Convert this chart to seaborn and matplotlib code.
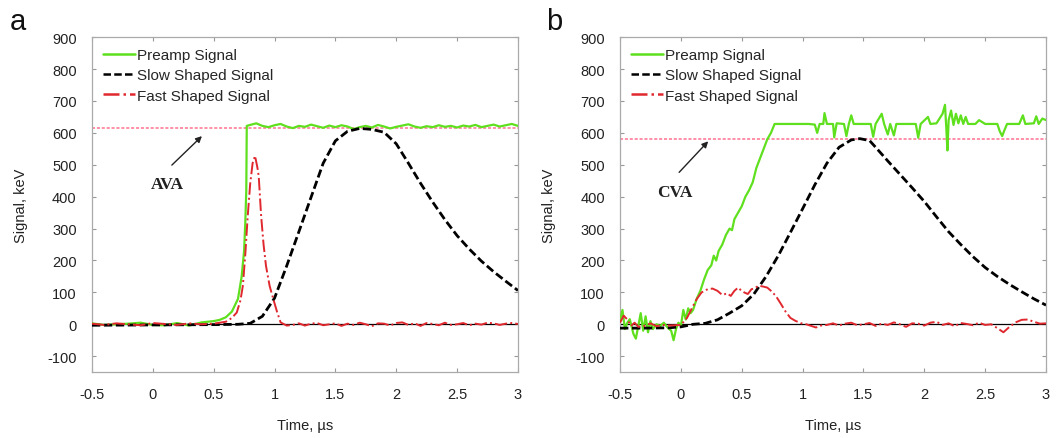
import numpy as np
import pandas as pd
import matplotlib
matplotlib.use("Agg")
import matplotlib.pyplot as plt
import seaborn as sns

sns.set_style("ticks")
plt.rcParams["font.family"] = ["Liberation Sans", "DejaVu Sans"]
plt.rcParams["axes.unicode_minus"] = False

# ---------------- panel a ----------------
a_pre_t = [-0.5, -0.4, -0.3, -0.2, -0.1, 0.0, 0.1, 0.2, 0.3, 0.4, 0.5, 0.55, 0.6, 0.65,
           0.7, 0.73, 0.75, 0.76, 0.768, 0.772] + list(np.round(np.arange(0.8, 3.001, 0.05), 2))
a_pre_v = [3, -2, 0, 2, 5, -2, -3, 4, -4, 6, 10, 14, 22, 40, 80, 150, 230, 320, 420, 622,
           625, 630, 622, 618, 624, 628, 620, 615, 622, 619, 626, 621, 616, 623, 618, 624,
           620, 612, 618, 622, 617, 625, 620, 614, 619, 623, 627, 620, 616, 621, 618, 624,
           619, 622, 617, 623, 620, 625, 618, 622, 626, 620, 624, 628, 622]

a_slow_t = [-0.5, 0.0, 0.5, 0.7, 0.8, 0.9, 1.0, 1.1, 1.2, 1.3, 1.4, 1.5, 1.6, 1.7, 1.8,
            1.9, 2.0, 2.1, 2.2, 2.3, 2.4, 2.5, 2.6, 2.7, 2.8, 2.9, 3.0]
a_slow_v = [-3, -2, -1, 0, 3, 25, 82, 183, 290, 398, 505, 575, 605, 614, 611, 602, 566,
            505, 442, 383, 328, 278, 236, 198, 165, 135, 106]

a_fast_t = [-0.5, -0.4, -0.3, -0.2, -0.1, 0.0, 0.1, 0.2, 0.3, 0.4, 0.5, 0.6, 0.65, 0.69,
            0.72, 0.74, 0.76, 0.78, 0.8, 0.82, 0.84, 0.86, 0.87, 0.89, 0.91, 0.93, 0.96,
            0.99, 1.02, 1.05, 1.1] + list(np.round(np.arange(1.15, 3.001, 0.05), 2))
a_fast_v = [2, -2, 3, 0, -3, 4, 1, -2, 3, 0, 2, 8, 20, 37, 75, 121, 220, 340, 440, 505,
            528, 490, 465, 340, 250, 183, 120, 79, 40, 6, -4,
            -2, 3, -4, 2, 4, -3, 0, 3, -5, 2, -2, 5, 0, -6, 3, 2, -4, 4, 6, -2, 3, -5,
            4, 1, -3, 5, -2, 0, 4, -3, 2, -1, 5, 3, -2, 2, 4, 1]
a_ref = 615

# ---------------- panel b ----------------
b_pre_t = [-0.5, -0.48, -0.46, -0.44, -0.42, -0.39, -0.37, -0.35, -0.33, -0.31, -0.29,
           -0.27, -0.25, -0.23, -0.2, -0.17, -0.14, -0.11, -0.08, -0.06, -0.04, -0.02,
           0.0, 0.02, 0.04, 0.06, 0.08, 0.1, 0.13, 0.16, 0.19, 0.22, 0.25, 0.27, 0.29,
           0.31, 0.34, 0.37, 0.4, 0.42, 0.44, 0.47, 0.5, 0.53, 0.56, 0.59, 0.62, 0.65,
           0.68, 0.71, 0.74, 0.77,
           0.8, 0.9, 1.0, 1.05, 1.1, 1.12, 1.14, 1.17, 1.18, 1.2, 1.25, 1.26, 1.28, 1.34,
           1.36, 1.38, 1.4, 1.42, 1.5, 1.56, 1.58, 1.6, 1.65, 1.67, 1.7, 1.72, 1.75, 1.77,
           1.85, 1.93, 1.95, 1.97, 2.03, 2.05, 2.1, 2.15, 2.17, 2.18, 2.19, 2.2, 2.22,
           2.24, 2.26, 2.28, 2.3, 2.32, 2.34, 2.36, 2.42, 2.45, 2.5, 2.6, 2.62, 2.64,
           2.66, 2.68, 2.78, 2.81, 2.83, 2.9, 2.92, 2.94, 2.97, 3.0]
b_pre_v = [10, 45, -15, 5, 16, -30, -45, -5, 35, -20, 25, -25, 10, -15, 0, -5, 5, -10,
           -20, -50, -15, 5, -5, 45, 15, 50, 35, 45, 80, 105, 140, 170, 185, 215, 200,
           230, 250, 280, 300, 295, 330, 350, 370, 400, 420, 445, 490, 520, 550, 580,
           600, 628,
           628, 628, 628, 628, 626, 600, 628, 628, 662, 628, 628, 586, 630, 628, 590, 628,
           655, 628, 628, 628, 588, 628, 660, 628, 595, 628, 592, 628, 628, 628, 585, 628,
           650, 628, 630, 660, 688, 620, 545, 640, 670, 625, 660, 630, 655, 628, 650, 628,
           628, 640, 628, 628, 605, 590, 610, 628, 628, 655, 628, 630, 652, 628, 645, 640]

b_slow_t = [-0.5, -0.3, -0.1, 0.0, 0.1, 0.2, 0.3, 0.4, 0.5, 0.6, 0.7, 0.8, 0.9, 1.0, 1.1,
            1.2, 1.3, 1.4, 1.47, 1.55, 1.6, 1.7, 1.8, 1.9, 2.0, 2.1, 2.2, 2.3, 2.4, 2.5,
            2.6, 2.7, 2.8, 2.9, 3.0]
b_slow_v = [-12, -12, -11, -8, 0, 3, 14, 35, 58, 95, 150, 215, 288, 362, 437, 505, 555,
            578, 582, 576, 555, 512, 470, 428, 385, 337, 290, 250, 212, 178, 150, 125,
            102, 80, 60]

b_fast_t = [-0.5, -0.47, -0.44, -0.41, -0.38, -0.35, -0.3, -0.25, -0.2, -0.15, -0.1,
            -0.05, 0.0, 0.05, 0.09, 0.13, 0.17, 0.22, 0.26, 0.3, 0.34, 0.38, 0.41, 0.44,
            0.47, 0.49, 0.52, 0.55, 0.58, 0.6, 0.64, 0.68, 0.71, 0.74, 0.78, 0.82, 0.86,
            0.9, 0.94, 0.99, 1.03, 1.07, 1.11, 1.15] + list(np.round(np.arange(1.2, 3.001, 0.05), 2))
b_fast_v = [5, 27, 15, -5, 5, -8, -5, 3, -6, -2, -4, -3, -2, 20, 50, 79, 100, 110, 112,
            105, 92, 97, 89, 105, 115, 108, 100, 95, 110, 112, 121, 118, 115, 105, 89, 65,
            40, 20, 11, 3, 0, -5, -10, -4,
            -2, 3, -4, 2, 5, -3, 0, 4, -5, 2, -2, 6, 0, -8, 3, 2, -4, 5, 8, -2, 3, -6,
            4, 1, -3, 5, -2, 0, -12, -25, -8, 6, 14, 15, 8, 2, 3]
b_ref = 582

panels = [
    ("a", "AVA", a_pre_t, a_pre_v, a_slow_t, a_slow_v, a_fast_t, a_fast_v, a_ref,
     (0.12, 440), (0.42, 596), (0.14, 493)),
    ("b", "CVA", b_pre_t, b_pre_v, b_slow_t, b_slow_v, b_fast_t, b_fast_v, b_ref,
     (-0.05, 414), (0.24, 580), (-0.03, 470)),
]

fig = plt.figure(figsize=(10.57, 4.39), dpi=100)
lefts = [0.087, 0.5866]
letter_x = [0.009, 0.517]
GREEN = "#5fe01e"
RED = "#e0282f"
PINK = "#ff7090"
FS = 10.5

for left, lx, (letter, tag, pt, pv, st, sv, ft, fv, ref, txy, hxy, axy) in zip(lefts, letter_x, panels):
    ax = fig.add_axes([left, 0.150, 0.403, 0.763])
    ax.axhline(0, color="black", lw=0.9, zorder=1)
    ax.axhline(ref, color=PINK, lw=1.1, ls=(0, (2, 1.2)), zorder=1)
    sns.lineplot(x=pt, y=pv, ax=ax, color=GREEN, lw=1.6, label="Preamp Signal",
                 estimator=None, sort=False, zorder=3)
    sns.lineplot(x=st, y=sv, ax=ax, color="black", lw=2.0, label="Slow Shaped Signal",
                 estimator=None, sort=False, zorder=4, dashes=False)
    ax.lines[-1].set_dashes((3, 1.3))
    sns.lineplot(x=ft, y=fv, ax=ax, color=RED, lw=1.4, label="Fast Shaped Signal",
                 estimator=None, sort=False, zorder=5)
    ax.lines[-1].set_linestyle("-.")

    ax.set_xlim(-0.5, 3)
    ax.set_ylim(-150, 900)
    ax.set_xticks([-0.5, 0, 0.5, 1, 1.5, 2, 2.5, 3])
    ax.set_xticklabels(["-0.5", "0", "0.5", "1", "1.5", "2", "2.5", "3"])
    ax.set_yticks(range(-100, 901, 100))
    ax.tick_params(direction="in", top=True, right=True, length=3, width=0.8,
                   color="#999999", labelsize=FS, labelcolor="#222222", pad=11)
    for s in ax.spines.values():
        s.set_color("#aaaaaa")
        s.set_linewidth(0.9)
    ax.set_xlabel("Time, µs", fontsize=FS, color="#222222", labelpad=12)
    ax.set_ylabel("Signal, keV", fontsize=FS, color="#222222", labelpad=14)

    leg = ax.legend(loc="upper left", frameon=False, fontsize=11, handlelength=2.1,
                    handletextpad=0.15, labelspacing=0.42, borderaxespad=0.4,
                    borderpad=0.3)
    for h in leg.get_lines():
        h.set_linewidth(1.8)

    ax.annotate("", xy=hxy, xytext=axy,
                arrowprops=dict(arrowstyle="-|>", color="#222222", lw=1.0,
                                mutation_scale=9))
    ax.text(txy[0], txy[1], tag, fontsize=12.5, fontweight="bold",
            family="Liberation Serif", color="#222222", ha="center", va="center")

    fig.text(lx, 0.95, letter, fontsize=21, ha="left", va="center", color="#111111")

fig.savefig("out.png", dpi=100)
